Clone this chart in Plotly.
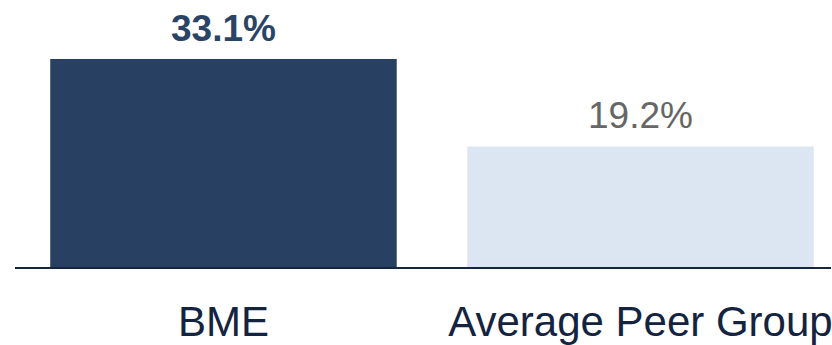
import plotly.graph_objects as go

categories = ["BME", "Average Peer Group"]
values = [33.1, 19.2]
labels = ["33.1%", "19.2%"]
bar_colors = ["#284162", "#dce6f2"]
label_colors = ["#2a4466", "#666666"]
label_bold = [True, False]

FONT = "Arial, Liberation Sans, sans-serif"

fig = go.Figure()
fig.add_trace(go.Bar(
    x=categories, y=values,
    marker=dict(color=bar_colors, line=dict(width=0)),
    hoverinfo="skip",
))

for c, v, t, col, b in zip(categories, values, labels, label_colors, label_bold):
    fig.add_annotation(
        x=c, y=v, text=f"<b>{t}</b>" if b else t,
        showarrow=False, yanchor="bottom", yshift=8,
        font=dict(family=FONT, size=37, color=col),
    )

fig.update_layout(
    width=832, height=345,
    margin=dict(l=15, r=0, t=0, b=74),
    paper_bgcolor="white", plot_bgcolor="white",
    bargap=0.169,
    showlegend=False,
    xaxis=dict(
        range=[-0.5, 1.457],
        showline=True, linewidth=2, linecolor="#142640",
        ticks="outside", ticklen=17, tickcolor="rgba(0,0,0,0)",
        tickfont=dict(family=FONT, size=42, color="#14243f"),
        showgrid=False, zeroline=False, fixedrange=True,
    ),
    yaxis=dict(
        range=[0, 42.5], visible=False, showgrid=False, zeroline=False,
    ),
)

fig.write_html("out.html", config={"displayModeBar": False})
